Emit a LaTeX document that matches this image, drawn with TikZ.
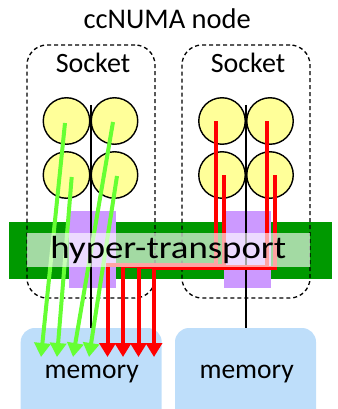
\documentclass[tikz,border=0pt]{standalone}
\usepackage{fontspec}
\setmainfont{Carlito}
\usetikzlibrary{arrows.meta}
\definecolor{cpuyellow}{RGB}{255,255,153}
\definecolor{htgreen}{RGB}{0,153,0}
\definecolor{mcpurple}{RGB}{204,153,255}
\definecolor{memblue}{RGB}{190,222,250}
\definecolor{flowgreen}{RGB}{102,255,51}
\definecolor{flowred}{RGB}{255,0,0}
\tikzset{
  box/.style={anchor=north west, inner sep=0pt, outer sep=0pt},
  membox/.style={box, fill=memblue, rounded corners=14pt, minimum width=141pt, minimum height=100pt},
  socketbox/.style={box, draw=black, line width=1.3pt, dash pattern=on 4pt off 3pt, rounded corners=20pt, minimum width=128pt, minimum height=253pt},
  mcbox/.style={box, fill=mcpurple, minimum width=46.7pt, minimum height=77pt},
  cpu/.style={circle, draw=black, line width=1.4pt, fill=cpuyellow, minimum size=46.5pt, inner sep=0pt},
  bus/.style={line width=1.2pt, black},
  label/.style={anchor=base, inner sep=0pt},
  greenflow/.style={flowgreen, line width=4pt, -{Triangle[length=14pt,width=16pt]}},
  redflow/.style={flowred, line width=4pt, -{Triangle[length=14pt,width=16pt]}},
}
\begin{document}
\begin{tikzpicture}[x=1pt,y=-1pt]
\clip (0,0) rectangle (337,409);

% memory banks
\node[membox] (mem1) at (20.7,328) {};
\node[membox] (mem2) at (175,328) {};

% hyper-transport link
\node[box, fill=htgreen, minimum width=322.7pt, minimum height=57.3pt] (ht) at (9,221.7) {};

% memory controllers
\node[mcbox] (mc1) at (69,211) {};
\node[mcbox] (mc2) at (224,211) {};

% sockets
\node[socketbox] (s1) at (27,45) {};
\node[socketbox] (s2) at (182,45) {};

% internal bus from cores to memory
\coordinate (b1t) at (91,105);
\coordinate (b2t) at (246,105);
\draw[bus] (b1t) -- (b1t |- mem1.north);
\draw[bus] (b2t) -- (b2t |- mem2.north);

% cores
\node[cpu] (c11) at (66.5,121) {};
\node[cpu] (c12) at (114.5,121) {};
\node[cpu] (c13) at (66.5,175) {};
\node[cpu] (c14) at (114.5,175) {};
\node[cpu] (c21) at (222,121) {};
\node[cpu] (c22) at (270,121) {};
\node[cpu] (c23) at (222,175) {};
\node[cpu] (c24) at (270,175) {};

% local accesses
\coordinate (g1s) at (65,123);   \coordinate (g1e) at (41,357);
\coordinate (g2s) at (71.7,177); \coordinate (g2e) at (57,357);
\coordinate (g3s) at (113,122);  \coordinate (g3e) at (73,357);
\coordinate (g4s) at (117,176);  \coordinate (g4e) at (89,357);
\draw[greenflow] (g1s) -- (g1e);
\draw[greenflow] (g2s) -- (g2e);
\draw[greenflow] (g3s) -- (g3e);
\draw[greenflow] (g4s) -- (g4e);

% remote accesses through the link
\coordinate (r1s) at (216,121);  \coordinate (r1e) at (107.5,357);
\coordinate (r2s) at (224,175);  \coordinate (r2e) at (123,357);
\coordinate (r3s) at (267,121);  \coordinate (r3e) at (138.5,357);
\coordinate (r4s) at (275,175);  \coordinate (r4e) at (154,357);
\draw[redflow] (r1s) -- (r1s |- 0,265) -- (r1e |- 0,265) -- (r1e);
\draw[redflow] (r2s) -- (r2s |- 0,266) -- (r2e |- 0,266) -- (r2e);
\draw[redflow] (r3s) -- (r3s |- 0,267) -- (r3e |- 0,267) -- (r3e);
\draw[redflow] (r4s) -- (r4s |- 0,268) -- (r4e |- 0,268) -- (r4e);

% label strip over the link
\node[box, fill=white, fill opacity=0.64, minimum width=283pt, minimum height=33.4pt] (htstrip) at (27,233.3) {};

% texts
\node[label, font=\fontsize{28.5}{30}\selectfont] (title) at (167.2,28.3) {ccNUMA node};
\node[label, font=\fontsize{28}{30}\selectfont] (s1t) at (93,72.7) {Socket};
\node[label, font=\fontsize{28}{30}\selectfont] (s2t) at (248,72.7) {Socket};
\node[label, font=\fontsize{32}{34}\selectfont] (htt) at (168.3,258.3) {\scalebox{1.15}[1]{hyper-transport}};
\node[label, font=\fontsize{27.5}{30}\selectfont] (m1t) at (91.7,378.3) {memory};
\node[label, font=\fontsize{27.5}{30}\selectfont] (m2t) at (246.7,378.3) {memory};
\end{tikzpicture}
\end{document}
